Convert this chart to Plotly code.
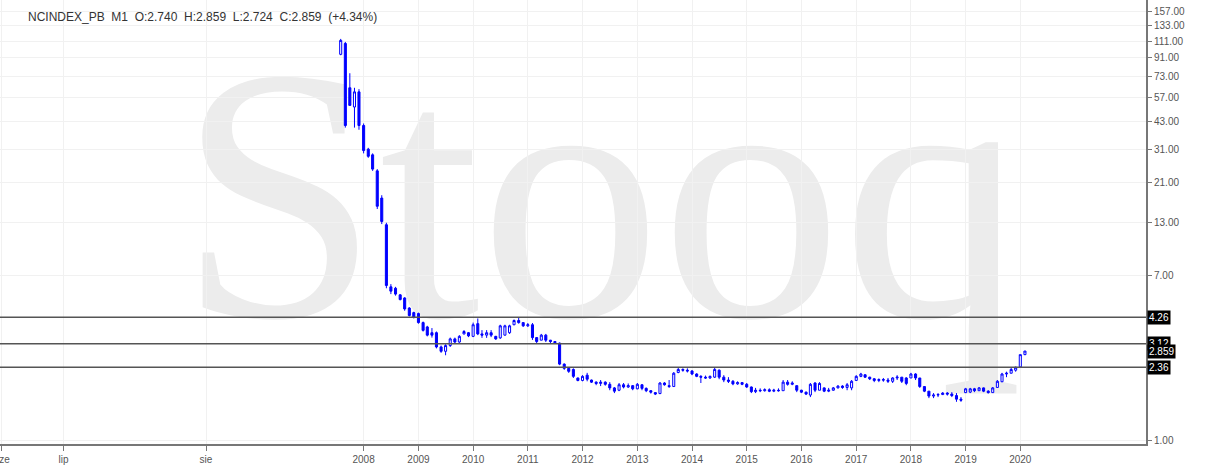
import plotly.graph_objects as go
import pandas as pd
import numpy as np

# ---- data (monthly OHLC, Aug 2007 .. Feb 2020) ----
months = pd.date_range("2007-08-01", periods=151, freq="MS")

ohlc_rows = [
    (95, 114, 94, 112), (108, 110, 40, 41), (64, 76, 52, 52), (51, 64, 40, 61), (61, 63, 39, 41),
    (41, 42, 29.5, 30.5), (31, 31.5, 28, 28.5), (29, 29.5, 24, 24.5), (24, 24.5, 15.3, 15.8),
    (17.4, 18, 12.8, 13.2), (12.7, 13, 6.0, 6.2), (6.1, 6.3, 5.6, 5.8), (6.0, 6.1, 5.5, 5.6),
    (5.55, 5.6, 5.2, 5.25), (5.35, 5.4, 4.6, 4.7), (4.75, 4.8, 4.3, 4.35), (4.5, 4.55, 4.2, 4.25),
    (4.45, 4.5, 3.95, 4.0), (4.0, 4.05, 3.6, 3.65), (3.8, 3.85, 3.4, 3.45), (3.55, 3.75, 3.35, 3.45),
    (3.55, 3.6, 2.95, 3.0), (3.0, 3.05, 2.8, 2.85), (2.85, 3.1, 2.72, 3.05), (3.05, 3.35, 3.0, 3.3),
    (3.3, 3.35, 3.12, 3.18), (3.18, 3.45, 3.15, 3.4), (3.5, 3.66, 3.48, 3.6), (3.55, 3.58, 3.37, 3.42),
    (3.4, 4.0, 3.37, 3.9), (3.95, 4.2, 3.45, 3.5), (3.5, 3.66, 3.34, 3.45), (3.45, 3.66, 3.34, 3.55),
    (3.55, 3.66, 3.37, 3.45), (3.4, 3.42, 3.26, 3.3), (3.34, 3.9, 3.3, 3.85), (3.45, 3.9, 3.43, 3.85),
    (3.55, 3.9, 3.5, 3.85), (3.9, 4.15, 3.88, 4.1), (4.1, 4.27, 3.95, 4.0), (4.0, 4.0, 3.8, 3.85),
    (3.85, 3.98, 3.8, 3.9), (3.9, 3.98, 3.26, 3.35), (3.35, 3.37, 3.14, 3.2), (3.25, 3.5, 3.25, 3.45),
    (3.45, 3.5, 3.18, 3.25), (3.25, 3.26, 3.14, 3.2), (3.2, 3.22, 3.12, 3.15), (3.14, 3.16, 2.42, 2.45),
    (2.45, 2.47, 2.29, 2.33), (2.33, 2.35, 2.21, 2.25), (2.3, 2.33, 2.08, 2.12), (2.08, 2.09, 2.0, 2.02),
    (2.02, 2.15, 2.0, 2.12), (2.15, 2.21, 2.0, 2.05), (2.03, 2.04, 1.96, 1.98), (1.98, 2.0, 1.91, 1.95),
    (1.95, 2.03, 1.89, 1.98), (1.98, 2.0, 1.9, 1.93), (1.93, 1.98, 1.8, 1.85), (1.85, 1.87, 1.74, 1.78),
    (1.8, 1.96, 1.78, 1.92), (1.92, 1.96, 1.84, 1.87), (1.87, 1.95, 1.85, 1.9), (1.9, 1.91, 1.8, 1.83),
    (1.83, 1.96, 1.82, 1.93), (1.92, 1.93, 1.8, 1.84), (1.84, 1.86, 1.76, 1.79), (1.79, 1.8, 1.73, 1.76),
    (1.75, 1.76, 1.7, 1.72), (1.73, 1.98, 1.72, 1.96), (1.96, 1.98, 1.9, 1.92), (1.9, 2.03, 1.85, 1.88),
    (1.88, 2.23, 1.87, 2.2), (2.22, 2.34, 2.2, 2.3), (2.3, 2.33, 2.24, 2.28), (2.28, 2.33, 2.22, 2.26),
    (2.26, 2.28, 2.15, 2.18), (2.18, 2.2, 2.1, 2.12), (2.12, 2.15, 1.96, 2.1), (2.1, 2.14, 2.06, 2.08),
    (2.08, 2.14, 2.06, 2.12), (2.1, 2.34, 2.08, 2.3), (2.28, 2.3, 2.05, 2.1), (2.1, 2.15, 1.98, 2.03),
    (2.03, 2.1, 1.96, 2.0), (2.0, 2.03, 1.91, 1.94), (1.94, 2.0, 1.92, 1.97), (1.97, 1.98, 1.91, 1.93),
    (1.93, 1.96, 1.85, 1.87), (1.87, 1.88, 1.74, 1.77), (1.77, 1.85, 1.74, 1.8), (1.8, 1.84, 1.76, 1.79),
    (1.79, 1.84, 1.77, 1.81), (1.81, 1.84, 1.76, 1.78), (1.78, 1.83, 1.76, 1.8), (1.8, 1.84, 1.77, 1.79),
    (1.79, 2.03, 1.79, 1.98), (1.98, 2.03, 1.9, 1.93), (1.93, 2.0, 1.91, 1.96), (1.9, 1.9, 1.76, 1.8),
    (1.8, 1.81, 1.74, 1.76), (1.76, 1.77, 1.7, 1.72), (1.7, 1.96, 1.66, 1.93), (1.96, 1.98, 1.76, 1.8),
    (1.8, 1.98, 1.8, 1.95), (1.85, 1.86, 1.76, 1.78), (1.78, 1.85, 1.76, 1.8), (1.8, 1.87, 1.79, 1.85),
    (1.85, 1.91, 1.84, 1.89), (1.89, 1.91, 1.83, 1.86), (1.86, 1.96, 1.8, 1.92), (1.85, 2.03, 1.8, 2.0),
    (2.02, 2.15, 2.02, 2.12), (2.12, 2.21, 2.1, 2.18), (2.16, 2.17, 2.08, 2.1), (2.1, 2.11, 2.03, 2.06),
    (2.06, 2.08, 1.98, 2.02), (2.02, 2.07, 1.98, 2.04), (2.04, 2.08, 1.99, 2.03), (2.03, 2.08, 1.96, 2.0),
    (2.0, 2.1, 1.96, 2.08), (2.08, 2.15, 2.03, 2.1), (2.1, 2.1, 1.96, 2.0), (2.08, 2.1, 1.91, 1.95),
    (2.08, 2.21, 2.08, 2.18), (2.18, 2.2, 2.03, 2.08), (2.08, 2.08, 1.85, 1.88), (1.88, 1.88, 1.76, 1.78),
    (1.78, 1.78, 1.64, 1.68), (1.68, 1.74, 1.64, 1.7), (1.7, 1.74, 1.66, 1.71), (1.71, 1.76, 1.7, 1.74),
    (1.74, 1.76, 1.69, 1.72), (1.72, 1.76, 1.66, 1.69), (1.69, 1.74, 1.57, 1.62), (1.62, 1.66, 1.57, 1.6),
    (1.75, 1.85, 1.74, 1.83), (1.76, 1.85, 1.74, 1.83), (1.83, 1.85, 1.76, 1.79), (1.79, 1.87, 1.79, 1.85),
    (1.85, 1.86, 1.76, 1.78), (1.78, 1.8, 1.73, 1.75), (1.75, 1.87, 1.75, 1.85), (1.86, 2.03, 1.85, 2.0),
    (1.99, 2.21, 1.98, 2.18), (2.18, 2.24, 2.1, 2.2), (2.2, 2.34, 2.2, 2.3), (2.28, 2.38, 2.24, 2.36),
    (2.37, 2.74, 2.36, 2.74), (2.74, 2.859, 2.724, 2.859),
]
opens = [r[0] for r in ohlc_rows]
highs = [r[1] for r in ohlc_rows]
lows = [r[2] for r in ohlc_rows]
closes = [r[3] for r in ohlc_rows]

# horizontal levels with their badge labels
level_values = [4.26, 3.12, 2.36]
level_labels = ["4.26", "3.12", "2.36"]
last_value = 2.859
last_label = "2.859"

# axis ticks
y_tick_values = [1, 7, 13, 21, 31, 43, 57, 73, 91, 111, 133, 157]
y_tick_labels = ["1.00", "7.00", "13.00", "21.00", "31.00", "43.00", "57.00",
                 "73.00", "91.00", "111.00", "133.00", "157.00"]
x_tick_dates = ["2001-05-23", "2002-07-08", "2005-02-13"] + [f"{y}-01-01" for y in range(2008, 2021)]
x_tick_labels = ["cze", "lip", "sie"] + [str(y) for y in range(2008, 2021)]

title_text = "NCINDEX_PB\u00a0\u00a0M1\u00a0\u00a0O:2.740\u00a0\u00a0H:2.859\u00a0\u00a0L:2.724\u00a0\u00a0C:2.859\u00a0\u00a0(+4.34%)"

BLUE = "#0000ff"
fig = go.Figure()
fig.add_trace(go.Candlestick(
    x=months, open=opens, high=highs, low=lows, close=closes,
    increasing=dict(line=dict(color=BLUE, width=1), fillcolor="white"),
    decreasing=dict(line=dict(color=BLUE, width=1), fillcolor=BLUE),
    whiskerwidth=0, showlegend=False, hoverinfo="skip",
))

shapes = []
# watermark as a shape label below the grid
shapes.append(dict(
    type="rect", xref="paper", yref="paper", x0=0.159, x1=0.889, y0=0.30, y1=1.0,
    line=dict(width=0), fillcolor="rgba(0,0,0,0)", layer="below",
    label=dict(text="Stooq", font=dict(family="Liberation Serif", size=362, color="#ececec"),
               textposition="middle center"),
))
for v in level_values:
    shapes.append(dict(type="line", xref="paper", yref="y", x0=0, x1=1, y0=v, y1=v,
                       line=dict(color="#555555", width=1.5), layer="above"))
fig.update_layout(shapes=shapes)

annotations = [dict(xref="paper", yref="paper", x=0.023, y=0.962, xanchor="left", yanchor="middle",
                    text=title_text, showarrow=False,
                    font=dict(family="Liberation Sans", size=12, color="#333333"))]
for v, lab in zip(level_values, level_labels):
    annotations.append(dict(xref="paper", yref="y", x=1, y=np.log10(v), xanchor="left", yanchor="middle",
                            xshift=1, text=lab, showarrow=False, bgcolor="#000000", borderpad=1,
                            font=dict(family="Liberation Sans", size=10, color="white")))
annotations.append(dict(xref="paper", yref="y", x=1, y=np.log10(last_value), xanchor="left", yanchor="middle",
                        xshift=1, text=last_label, showarrow=False, bgcolor="#000000", borderpad=1,
                        font=dict(family="Liberation Sans", size=10, color="white")))
fig.update_layout(annotations=annotations)

fig.update_layout(
    width=1208, height=473, autosize=False,
    margin=dict(l=0, r=62, t=0, b=29, autoexpand=False),
    paper_bgcolor="white", plot_bgcolor="white",
    xaxis=dict(type="date", range=["2001-05-10", "2022-04-19"], rangeslider=dict(visible=False),
               tickmode="array", tickvals=x_tick_dates, ticktext=x_tick_labels,
               ticklabeloverflow="allow", automargin=False,
               showgrid=True, gridcolor="#f1f1f1", gridwidth=1,
               showline=True, linecolor="#777777", linewidth=2,
               ticks="outside", ticklen=5, tickcolor="#777777",
               tickfont=dict(family="Liberation Sans", size=10, color="#555555"), zeroline=False),
    yaxis=dict(type="log", side="right", range=[-0.0205, 2.2564], automargin=False,
               tickmode="array", tickvals=y_tick_values, ticktext=y_tick_labels,
               showgrid=True, gridcolor="#f1f1f1", gridwidth=1,
               showline=True, linecolor="#777777", linewidth=2,
               ticks="outside", ticklen=4, tickcolor="#777777",
               tickfont=dict(family="Liberation Sans", size=10, color="#555555"), zeroline=False),
)

fig.write_html("out.html", config={"displayModeBar": False},
               post_script="document.body.style.margin='0';")
